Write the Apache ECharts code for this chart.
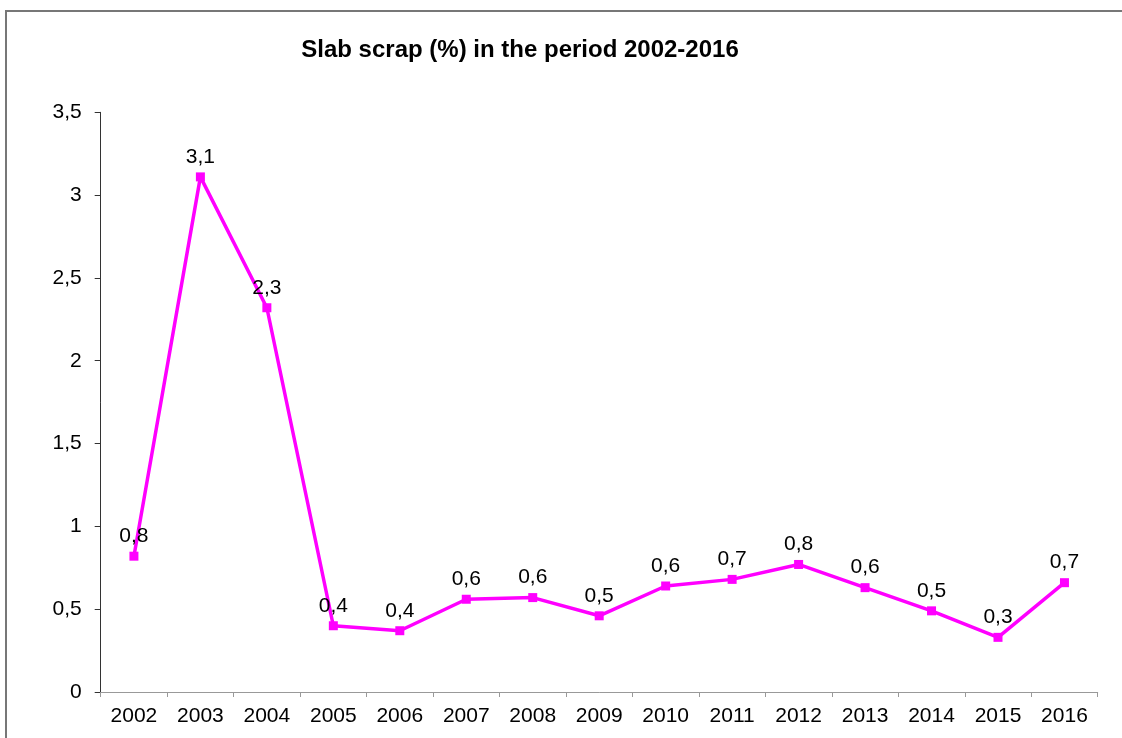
<!DOCTYPE html>
<html>
<head>
<meta charset="utf-8">
<script src="https://cdn.jsdelivr.net/npm/echarts@6/dist/echarts.min.js"></script>
<style>
  html, body { margin: 0; padding: 0; background: #fff; }
  #chart { width: 1122px; height: 738px; }
</style>
</head>
<body>
<div id="chart"></div>
<script>
const years = ['2002', '2003', '2004', '2005', '2006', '2007', '2008', '2009',
  '2010', '2011', '2012', '2013', '2014', '2015', '2016'];
const scrap = [0.82, 3.11, 2.32, 0.40, 0.37, 0.56, 0.57, 0.46,
  0.64, 0.68, 0.77, 0.63, 0.49, 0.33, 0.66];
const yTicks = [0, 0.5, 1, 1.5, 2, 2.5, 3, 3.5];

const font = '"Liberation Sans", Arial, sans-serif';
const comma = v => String(v).replace('.', ',');

const chart = echarts.init(document.getElementById('chart'));

chart.setOption({
  backgroundColor: '#fff',
  animation: false,
  title: {
    text: 'Slab scrap (%) in the period 2002-2016',
    left: 515,
    top: 33,
    textAlign: 'center',
    textStyle: { fontFamily: font, fontSize: 24, fontWeight: 'bold', color: '#000' }
  },
  graphic: [{
    type: 'rect',
    shape: { x: 6, y: 11, width: 1200, height: 800 },
    style: { fill: 'none', stroke: '#777', lineWidth: 2 },
    silent: true
  }],
  grid: { left: 100.7, right: 24.3, top: 112.3, bottom: 46 },
  xAxis: {
    type: 'category',
    data: years,
    boundaryGap: true,
    axisLine: { lineStyle: { color: '#999', width: 1 } },
    axisTick: { show: true, length: 5, lineStyle: { color: '#999' } },
    axisLabel: { fontFamily: font, fontSize: 21, color: '#000', margin: 14 },
    splitLine: { show: false }
  },
  yAxis: {
    type: 'value',
    min: yTicks[0],
    max: yTicks[yTicks.length - 1],
    interval: 0.5,
    axisLine: { show: true, lineStyle: { color: '#333', width: 1 } },
    axisTick: { show: true, length: 6, lineStyle: { color: '#333' } },
    axisLabel: { fontFamily: font, fontSize: 21, color: '#000', margin: 19, formatter: comma },
    splitLine: { show: false }
  },
  series: [{
    type: 'line',
    data: scrap,
    symbol: 'rect',
    symbolSize: 9,
    lineStyle: { color: '#ff00ff', width: 3.5 },
    itemStyle: { color: '#ff00ff' },
    label: {
      show: true,
      position: 'top',
      distance: 5,
      fontFamily: font,
      fontSize: 21,
      color: '#000',
      formatter: p => comma(p.value.toFixed(1))
    }
  }]
});
</script>
</body>
</html>
